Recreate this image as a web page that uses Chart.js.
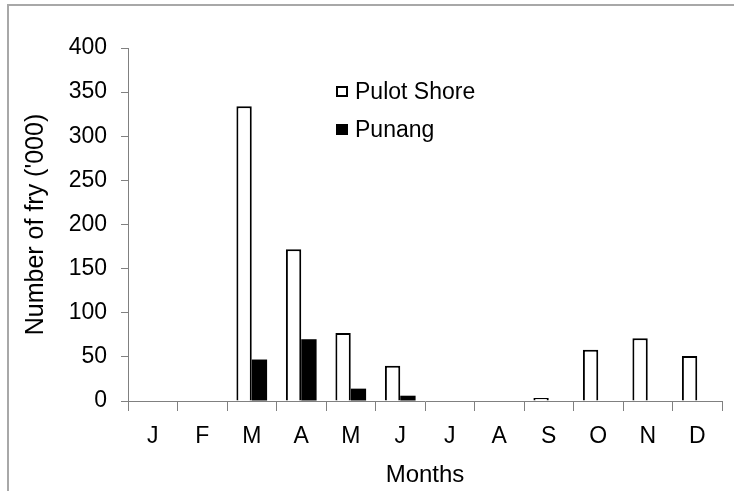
<!DOCTYPE html>
<html>
<head>
<meta charset="utf-8">
<script src="https://cdn.jsdelivr.net/npm/chart.js@4.4.0/dist/chart.umd.min.js"></script>
<style>
  html, body { margin: 0; padding: 0; background: #fff; }
  #wrap { position: relative; width: 734px; height: 491px; overflow: hidden; }
  #frame { position: absolute; left: 7px; top: 4px; right: -4px; bottom: -4px;
           border-left: 2px solid #a8a8a8; border-top: 2px solid #a8a8a8; }
  #fry-chart { position: absolute; left: 0; top: 0; }
</style>
</head>
<body>
<div id="wrap">
  <div id="frame"></div>
  <canvas id="fry-chart" width="734" height="491"></canvas>
</div>
<script>
const months = ["J", "F", "M", "A", "M", "J", "J", "A", "S", "O", "N", "D"];
const pulotShore = [0, 0, 334, 172, 77, 40, 0, 0, 3.5, 58, 71, 51];
const punang = [0, 0, 47, 70, 14, 6, 0, 0, 0, 0, 0, 0];
const yTicks = [0, 50, 100, 150, 200, 250, 300, 350, 400];

const axisGray = "#808080";
const fontFamily = "'Liberation Sans', Arial, sans-serif";

// legenda desenhada dentro da área do gráfico, como no original
const insideLegend = {
  id: "insideLegend",
  afterDraw(chart) {
    const ctx = chart.ctx;
    const items = [
      { label: "Pulot Shore", fill: "#ffffff", y: 92 },
      { label: "Punang", fill: "#000000", y: 130 },
    ];
    ctx.save();
    ctx.font = "23px " + fontFamily;
    ctx.textBaseline = "middle";
    items.forEach((it) => {
      ctx.fillStyle = it.fill;
      ctx.fillRect(336, it.y - 6, 12, 11);
      if (it.fill === "#ffffff") {
        ctx.strokeStyle = "#000";
        ctx.lineWidth = 2;
        ctx.strokeRect(337, it.y - 5, 10, 9);
      }
      ctx.fillStyle = "#000";
      ctx.fillText(it.label, 355, it.y + 1);
    });
    ctx.restore();
  },
};

new Chart(document.getElementById("fry-chart"), {
  type: "bar",
  data: {
    labels: months,
    datasets: [
      {
        label: "Pulot Shore",
        data: pulotShore,
        backgroundColor: "#ffffff",
        borderColor: "#000000",
        borderWidth: pulotShore.map((v) => (v > 0 ? 2 : 0)),
        categoryPercentage: 0.62,
        barPercentage: 1.0,
      },
      {
        label: "Punang",
        data: punang,
        backgroundColor: "#000000",
        borderWidth: 0,
        categoryPercentage: 0.62,
        barPercentage: 1.0,
      },
    ],
  },
  options: {
    responsive: false,
    animation: false,
    layout: { padding: { top: 48, right: 12, left: 0, bottom: 0 } },
    plugins: {
      legend: { display: false },
      tooltip: { enabled: false },
    },
    scales: {
      x: {
        offset: true,
        grid: {
          offset: true,
          drawOnChartArea: false,
          tickLength: 10,
          color: axisGray,
        },
        border: { color: axisGray, width: 1 },
        ticks: {
          color: "#000",
          padding: 12,
          font: { family: fontFamily, size: 23 },
        },
        title: {
          display: true,
          text: "Months",
          color: "#000",
          font: { family: fontFamily, size: 24 },
          padding: { top: 0, bottom: 1 },
        },
        afterFit: (s) => { s.height = 90; },
      },
      y: {
        min: 0,
        max: 400,
        afterBuildTicks: (s) => { s.ticks = yTicks.map((v) => ({ value: v })); },
        grid: {
          drawOnChartArea: false,
          tickLength: 7,
          color: axisGray,
        },
        border: { color: axisGray, width: 1 },
        ticks: {
          color: "#000",
          padding: 14,
          font: { family: fontFamily, size: 23 },
        },
        title: {
          display: true,
          text: "Number of fry ('000)",
          color: "#000",
          font: { family: fontFamily, size: 25 },
          padding: { top: 21, bottom: 0 },
        },
        afterFit: (s) => { s.width = 128; },
      },
    },
  },
  plugins: [insideLegend],
});
</script>
</body>
</html>
